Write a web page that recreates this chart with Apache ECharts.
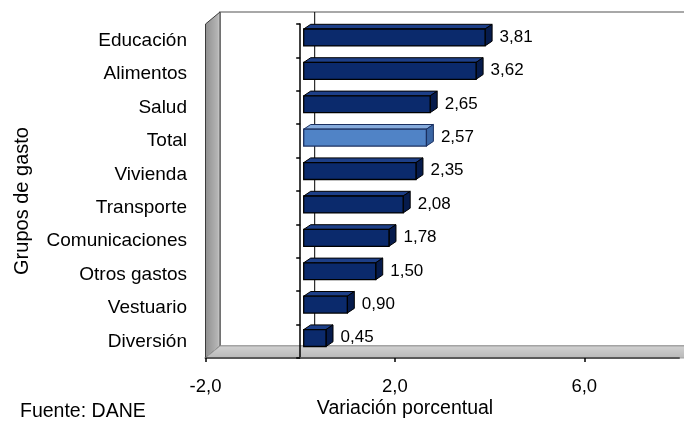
<!DOCTYPE html>
<html><head><meta charset="utf-8">
<script src="https://cdn.jsdelivr.net/npm/echarts@6/dist/echarts.min.js"></script>
<style>html,body{margin:0;padding:0;background:#fff}#c{width:684px;height:421px}</style>
</head><body><div id="c"></div>
<script>
const categories = ['Educación','Alimentos','Salud','Total','Vivienda','Transporte','Comunicaciones','Otros gastos','Vestuario','Diversión'];
const values = [3.81, 3.62, 2.65, 2.57, 2.35, 2.08, 1.78, 1.50, 0.90, 0.45];
const highlightCategory = 'Total';
const xTicks = [-2, 2, 6];
const xMin = -2, xMax = 8;
const yTitle = 'Grupos de gasto';
const xTitle = 'Variación porcentual';
const source = 'Fuente: DANE';

const fmt2 = v => v.toFixed(2).replace('.', ',');
const fmt1 = v => v.toFixed(1).replace('.', ',');
const FONT = '"Liberation Sans", Arial, Helvetica, sans-serif';
const DX = 14.5, DY = -12;

const chart = echarts.init(document.getElementById('c'), null, {renderer: 'canvas'});

function wallsRender(params, api) {
  const cs = params.coordSys;
  const L = cs.x, R = cs.x + cs.width, T = cs.y, B = cs.y + cs.height;
  const z0 = api.coord([0, 0])[0];
  const E = 60;
  return {type: 'group', children: [
    {type: 'polygon', shape: {points: [[L + DX, T + DY], [R + DX + E, T + DY], [R + DX + E, B + DY], [L + DX, B + DY]]},
      style: {fill: '#ffffff', stroke: '#8c8c8c', lineWidth: 1.5}},
    {type: 'polygon', shape: {points: [[L, T], [L + DX, T + DY], [L + DX, B + DY], [L, B]]},
      style: {fill: new echarts.graphic.LinearGradient(0, 0, 1, 0, [{offset: 0, color: '#8e8e8e'}, {offset: 0.8, color: '#b4b4b4'}, {offset: 1, color: '#d6d6d6'}]), stroke: '#3c3c3c', lineWidth: 1}},
    {type: 'polygon', shape: {points: [[L, B], [L + DX, B + DY], [R + DX + E, B + DY], [R + E, B]]},
      style: {fill: new echarts.graphic.LinearGradient(0, 0, 0, 1, [{offset: 0, color: '#d2d2d2'}, {offset: 1, color: '#b8b8b8'}]), stroke: '#a0a0a0', lineWidth: 1}},
    {type: 'line', shape: {x1: z0 + DX, y1: T + DY, x2: z0 + DX, y2: B + DY},
      style: {stroke: '#000', lineWidth: 1}}
  ]};
}

function barRender(params, api) {
  const v = api.value(0);
  const ci = api.value(1);
  const p0 = api.coord([0, ci]);
  const p1 = api.coord([v, ci]);
  const band = api.size([0, 1])[1];
  const cy = p0[1];
  const ox = 3.5;
  const yT = cy - band * 0.35, yB = cy + band * 0.155;
  const bx = 7, by = -4.7;
  const xa = p0[0] + ox, xb = p1[0] + ox + 1;
  const hi = categories[ci] === highlightCategory;
  const c = hi ? {front: '#5083c6', top: '#86abdc', side: '#3b66a4', stroke: '#1b3060'}
               : {front: '#0b2a6c', top: '#1d3f88', side: '#061b4c', stroke: '#000000'};
  return {type: 'group', children: [
    {type: 'polygon', shape: {points: [[xa, yT], [xb, yT], [xb + bx, yT + by], [xa + bx, yT + by]]},
      style: {fill: c.top, stroke: c.stroke, lineWidth: 1}},
    {type: 'polygon', shape: {points: [[xb, yT], [xb + bx, yT + by], [xb + bx, yB + by], [xb, yB]]},
      style: {fill: c.side, stroke: c.stroke, lineWidth: 1}},
    {type: 'rect', shape: {x: xa, y: yT, width: xb - xa, height: yB - yT},
      style: {fill: c.front, stroke: c.stroke, lineWidth: 1.3}},
    {type: 'text', style: {text: fmt2(v), x: p1[0] + 19, y: cy - 3.5, verticalAlign: 'middle', align: 'left',
      fontSize: 17, fontFamily: FONT, fill: '#000'}}
  ]};
}

chart.setOption({
  animation: false,
  backgroundColor: '#ffffff',
  grid: {left: 205.5, right: 5, top: 24, bottom: 63, containLabel: false, outerBoundsMode: 'none'},
  xAxis: {
    type: 'value', min: xMin, max: xMax, position: 'bottom',
    axisLine: {show: true, onZero: false, lineStyle: {color: '#5a5a5a', width: 2}},
    axisTick: {show: true, customValues: xTicks, length: 4, lineStyle: {color: '#000', width: 1.5}},
    axisLabel: {customValues: xTicks, formatter: v => fmt1(v), fontSize: 18.5, fontFamily: FONT, color: '#000', margin: 19},
    splitLine: {show: false}
  },
  yAxis: {
    type: 'category', data: categories, inverse: true,
    axisLine: {show: true, onZero: true, lineStyle: {color: '#000', width: 1.5}},
    axisTick: {show: true, length: 4, lineStyle: {color: '#000', width: 1.5}},
    axisLabel: {margin: 18.5, fontSize: 19, fontFamily: FONT, color: '#000'},
    splitLine: {show: false}
  },
  graphic: [
    {type: 'text', x: 22, y: 201, rotation: Math.PI / 2, style: {text: yTitle, align: 'center', verticalAlign: 'middle', fontSize: 20, fontFamily: FONT, fill: '#000'}},
    {type: 'text', x: 405, y: 409, style: {text: xTitle, align: 'center', verticalAlign: 'middle', fontSize: 19.5, fontFamily: FONT, fill: '#000'}},
    {type: 'text', x: 20, y: 412, style: {text: source, align: 'left', verticalAlign: 'middle', fontSize: 19.5, fontFamily: FONT, fill: '#000'}}
  ],
  series: [
    {type: 'custom', name: 'walls', z: -5, silent: true, clip: false,
      renderItem: wallsRender, encode: {x: 0, y: 1}, data: [[xMin, 0]]},
    {type: 'custom', name: 'Variación', z: 3, clip: false,
      renderItem: barRender, encode: {x: 0, y: 1},
      data: values.map((v, i) => [v, i])}
  ]
});
</script>
</body></html>
